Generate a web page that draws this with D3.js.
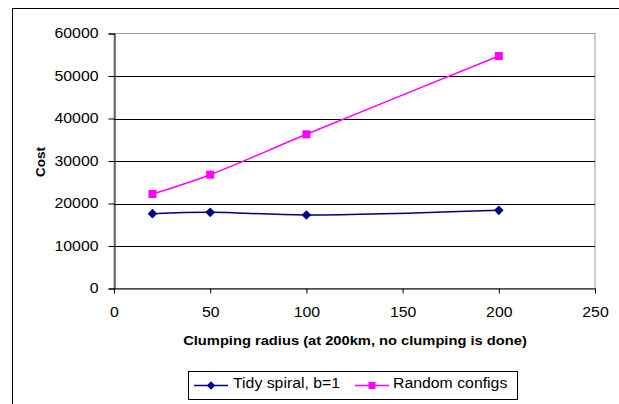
<!DOCTYPE html>
<html>
<head>
<meta charset="utf-8">
<script src="https://cdn.jsdelivr.net/npm/d3@7"></script>
<style>
  html, body { margin: 0; padding: 0; background: #fff; }
  svg { display: block; }
  text { font-family: "Liberation Sans", Arial, sans-serif; }
</style>
</head>
<body>
<svg id="chart" width="619" height="404"></svg>
<script>
// Clumping radius (km) at which each run was measured
const radii = [20, 50, 100, 200];
// Cost for each strategy
const tidySpiral = [17600, 17930, 17290, 18400];
const randomConfigs = [22240, 26780, 36280, 54700];
const seriesNames = ["Tidy spiral, b=1", "Random configs"];
const xTicks = [0, 50, 100, 150, 200, 250];
const yTicks = [0, 10000, 20000, 30000, 40000, 50000, 60000];

// Text in this chart is set slightly wide
const WIDEN = 1.13;
function widen(sel) {
  sel.each(function () {
    const w = this.getComputedTextLength();
    this.setAttribute("textLength", w * WIDEN);
    this.setAttribute("lengthAdjust", "spacingAndGlyphs");
  });
}

const svg = d3.select("#chart");

// Outer chart frame
svg.append("rect")
  .attr("x", 12.5).attr("y", 8.5)
  .attr("width", 640).attr("height", 420)
  .attr("fill", "none").attr("stroke", "#000").attr("stroke-width", 1);

const plot = { left: 114, right: 595, top: 33.5, bottom: 288.5 };

const x = d3.scaleLinear().domain([0, 250]).range([plot.left, plot.right]);
const y = d3.scaleLinear().domain([0, 60000]).range([plot.bottom, plot.top]);

// Plot area border (grey)
svg.append("rect")
  .attr("x", plot.left).attr("y", plot.top)
  .attr("width", plot.right - plot.left).attr("height", plot.bottom - plot.top)
  .attr("fill", "none").attr("stroke", "#999").attr("stroke-width", 1);

// Horizontal gridlines
svg.append("g")
  .selectAll("line")
  .data(yTicks.filter(v => v > 0 && v < 60000))
  .join("line")
  .attr("x1", plot.left).attr("x2", plot.right)
  .attr("y1", d => Math.round(y(d)) + 0.5).attr("y2", d => Math.round(y(d)) + 0.5)
  .attr("stroke", "#000").attr("stroke-width", 1);

// Y axis
const yAxis = svg.append("g")
  .attr("transform", `translate(${plot.left + 0.5},0)`)
  .call(d3.axisLeft(y).tickValues(yTicks).tickSize(6).tickPadding(10).tickFormat(d3.format("d")));
yAxis.select(".domain").attr("stroke", "#000");
yAxis.selectAll(".tick line").attr("stroke", "#000");
yAxis.selectAll("text").attr("font-size", 14).attr("fill", "#000")
  .attr("font-family", "Liberation Sans, Arial, sans-serif").call(widen);

// X axis
const xAxis = svg.append("g")
  .attr("transform", `translate(0,${plot.bottom})`)
  .call(d3.axisBottom(x).tickValues(xTicks).tickSize(5).tickPadding(14).tickSizeOuter(0));
xAxis.select(".domain").attr("stroke", "#000");
xAxis.selectAll(".tick line").attr("stroke", "#000");
xAxis.selectAll("text").attr("font-size", 14).attr("fill", "#000")
  .attr("font-family", "Liberation Sans, Arial, sans-serif").call(widen);

// Axis titles
svg.append("text")
  .attr("x", 355).attr("y", 345)
  .attr("text-anchor", "middle")
  .attr("font-size", 13).attr("font-weight", "bold")
  .text("Clumping radius (at 200km, no clumping is done)")
  .call(widen);

svg.append("text")
  .attr("transform", "translate(45,162) rotate(-90)")
  .attr("text-anchor", "middle")
  .attr("font-size", 13.5).attr("font-weight", "bold")
  .text("Cost");

// Series lines
const line = d3.line()
  .x(d => x(d[0])).y(d => y(d[1]))
  .curve(d3.curveCatmullRom.alpha(0.5));

const tidyPts = radii.map((r, i) => [r, tidySpiral[i]]);
const randPts = radii.map((r, i) => [r, randomConfigs[i]]);

svg.append("path").datum(randPts)
  .attr("d", line).attr("fill", "none")
  .attr("stroke", "#ff00ff").attr("stroke-width", 1.5);

svg.append("path").datum(tidyPts)
  .attr("d", line).attr("fill", "none")
  .attr("stroke", "#000080").attr("stroke-width", 1.5);

// Markers
const diamond = d3.symbol().type(d3.symbolDiamond2).size(60);
svg.append("g").selectAll("path")
  .data(tidyPts).join("path")
  .attr("transform", d => `translate(${x(d[0])},${y(d[1])})`)
  .attr("d", diamond).attr("fill", "#000080");

svg.append("g").selectAll("rect")
  .data(randPts).join("rect")
  .attr("x", d => x(d[0]) - 4).attr("y", d => y(d[1]) - 4)
  .attr("width", 8).attr("height", 8)
  .attr("fill", "#ff00ff");

// Legend
const legend = svg.append("g");
legend.append("rect")
  .attr("x", 188.5).attr("y", 371.5)
  .attr("width", 329).attr("height", 28)
  .attr("fill", "#fff").attr("stroke", "#000");

const legendItems = [
  { name: seriesNames[0], color: "#000080", marker: "diamond", lx: 194, tx: 233 },
  { name: seriesNames[1], color: "#ff00ff", marker: "square", lx: 355, tx: 393 }
];
legendItems.forEach(it => {
  const cy = 385.5;
  legend.append("line")
    .attr("x1", it.lx).attr("x2", it.lx + 34)
    .attr("y1", cy).attr("y2", cy)
    .attr("stroke", it.color).attr("stroke-width", 1.5);
  if (it.marker === "diamond") {
    legend.append("path")
      .attr("transform", `translate(${it.lx + 17},${cy})`)
      .attr("d", d3.symbol().type(d3.symbolDiamond2).size(45))
      .attr("fill", it.color);
  } else {
    legend.append("rect")
      .attr("x", it.lx + 13.5).attr("y", cy - 3.5)
      .attr("width", 7).attr("height", 7)
      .attr("fill", it.color);
  }
  legend.append("text")
    .attr("x", it.tx).attr("y", 388)
    .attr("font-size", 14)
    .text(it.name)
    .call(widen);
});
</script>
</body>
</html>
